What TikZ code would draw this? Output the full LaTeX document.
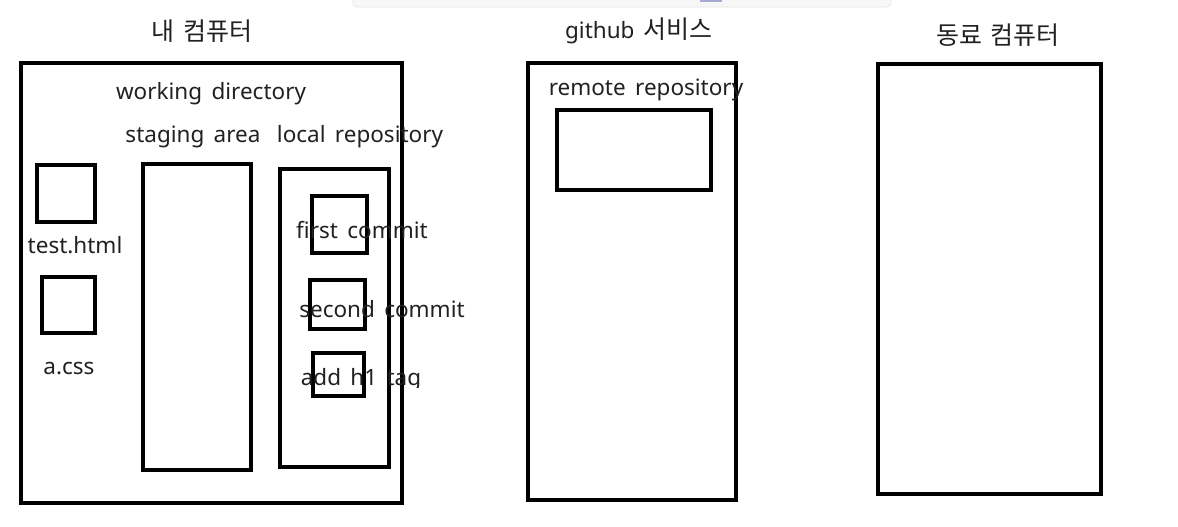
\documentclass[tikz,border=0pt]{standalone}
\usepackage{fontspec}
\setmainfont{Noto Sans}[WordSpace=1.6]
\newfontfamily\krfont{Noto Sans CJK KR}[WordSpace=1.5]
\begin{document}
\begin{tikzpicture}[x=1pt,y=-1pt,
  box/.style={draw=black, line width=3.4pt, inner sep=0pt, outer sep=0pt},
  lbl/.style={inner sep=0pt, outer sep=0pt, text=black!87, font=\fontsize{22.5}{26}\selectfont},
  ttl/.style={inner sep=0pt, outer sep=0pt, text=black!87, font=\fontsize{25}{28}\selectfont\krfont}]
\useasboundingbox[fill=white] (0,0) rectangle (1178,527);
% faint toolbar remnant
\fill[gray!6, draw=gray!20, line width=0.6pt, rounded corners=4pt] (353,-6) rectangle (891,7);
\fill[blue!35!gray!50] (700,0) rectangle (722,2.5);

% titles
\node[ttl] (t1) at (202,31) {내 컴퓨터};
\node[lbl] (t2) at (639,31) {github {\fontsize{25}{28}\selectfont\krfont 서비스}};
\node[ttl] (t3) at (998,35) {동료 컴퓨터};

% my computer
\node[box, minimum width=381pt, minimum height=440pt] (mypc) at (211.5,283) {};
\node[box, minimum width=58pt, minimum height=57pt] (f1) at (66,193.5) {};
\node[box, minimum width=53pt, minimum height=56pt] (f2) at (68.5,305) {};
\node[box, minimum width=108pt, minimum height=306pt] (stage) at (197,317) {};
\node[box, minimum width=109pt, minimum height=298pt] (local) at (334.5,318) {};
\node[box, minimum width=55pt, minimum height=57pt] (c1) at (339.5,224.5) {};
\node[box, minimum width=55pt, minimum height=49pt] (c2) at (337.5,304.5) {};
\node[box, minimum width=51pt, minimum height=43pt] (c3) at (338.5,374.5) {};

\node[lbl] (wd) at (211,93.5) {working directory};
\node[lbl] (sa) at (193,136.5) {staging area};
\node[lbl] (lr) at (360,136.5) {local repository};
\node[lbl] (l1) at (75,245) {test.html};
\node[lbl] (l2) at (69,368.5) {a.css};
\node[lbl] (m1) at (362,230) {first commit};
\node[lbl] (m2) at (382,309.5) {second commit};
\begin{scope}
\clip (280,350) rectangle (440,387);
\node[lbl] (m3) at (361,379.5) {add h1 tag};
\end{scope}

% github
\node[box, minimum width=208pt, minimum height=437pt] (gh) at (632,281.5) {};
\node[box, minimum width=154pt, minimum height=80pt] (remote) at (634,150) {};
\node[lbl] (rr) at (646,89.5) {remote repository};

% peer
\node[box, minimum width=223pt, minimum height=430pt] (peer) at (989.5,279) {};
\end{tikzpicture}
\end{document}
